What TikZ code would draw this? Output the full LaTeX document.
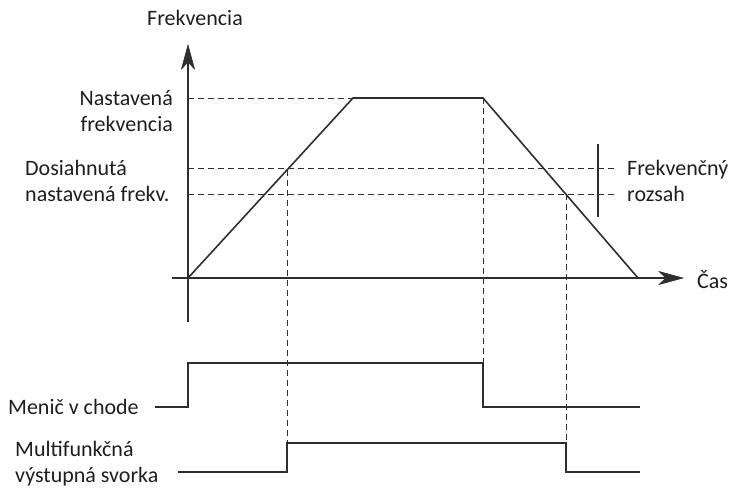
\documentclass[tikz,border=0pt]{standalone}
\usepackage{fontspec}
\setmainfont{Carlito}
\definecolor{ln}{HTML}{2E2E2E}
\definecolor{tx}{HTML}{1E1E1E}
\begin{document}
\begin{tikzpicture}[x=1pt,y=-1pt,
  lbl/.style={inner sep=0pt,text=tx,font=\fontsize{22}{26}\selectfont},
  curve/.style={draw=ln,line width=1.6pt,line join=miter},
  axisline/.style={draw=ln,line width=1.6pt},
  head/.style={fill=ln,draw=ln,line width=0.6pt,line join=miter},
  guide/.style={draw=ln,line width=1pt,dash pattern=on 6pt off 4pt}]
\useasboundingbox (0,0) rectangle (735,488);
% axes
\coordinate (yb) at (188,322);
\coordinate (yt) at (188,45);
\coordinate (yin) at (188,62);
\coordinate (xl) at (172,278);
\coordinate (xr) at (683,278);
\coordinate (xin) at (666,278);
\draw[axisline] (yb) -- (yin);
\draw[axisline] (xl) -- (xin);
\fill[head] (yt) -- (181.5,69) -- (yin) -- (194.5,69) -- cycle;
\fill[head] (xr) -- (659,271.5) -- (xin) -- (659,284.5) -- cycle;
% key points
\coordinate (o) at (188,278);
\coordinate (p1) at (353,98);
\coordinate (p2) at (483,98);
\coordinate (p3) at (638,278);
\coordinate (a98) at (188,98);
\coordinate (a168) at (188,168);
\coordinate (a194) at (188,194);
\coordinate (e168) at (615,168);
\coordinate (e194) at (615,194);
\coordinate (c1) at (287,170);
\coordinate (c2) at (566,194);
% guides
\draw[guide] (a98) -- (p1);
\draw[guide] (a168) -- (e168);
\draw[guide] (a194) -- (e194);
\coordinate (m1hi) at (483,363);
\coordinate (s1hi) at (287,443);
\coordinate (s2hi) at (566,443);
\draw[guide] (c1) -- (s1hi);
\draw[guide] (p2) -- (m1hi);
\draw[guide] (c2) -- (s2hi);
% range bar
\coordinate (rt) at (598,144);
\coordinate (rb) at (598,217);
\draw[draw=ln,line width=1.2pt] (rt) -- (rb);
% frequency curve
\draw[curve] (o) -- (p1) -- (p2) -- (p3);
% Menič v chode signal
\coordinate (m0) at (155,407);
\coordinate (m1) at (188,407);
\coordinate (m2) at (188,363);
\coordinate (m3) at (483,407);
\coordinate (m4) at (640,407);
\draw[curve] (m0) -- (m1) -- (m2) -- (m1hi) -- (m3) -- (m4);
% Multifunkčná signal
\coordinate (s0) at (178,472);
\coordinate (s1) at (287,472);
\coordinate (s2) at (566,472);
\coordinate (s3) at (640,472);
\draw[curve] (s0) -- (s1) -- (s1hi) -- (s2hi) -- (s2) -- (s3);
% labels
\node[lbl] (fr) at (195,18) {Frekvencia};
\node[lbl,anchor=west] (cas) at (697,280) {Čas};
\node[lbl,anchor=east,align=right] (nf) at (173,111) {Nastavená\\frekvencia};
\node[lbl,anchor=west,align=left] (df) at (25,181) {Dosiahnutá\\nastavená frekv.};
\node[lbl,anchor=west,align=left] (rz) at (627,181) {Frekvenčný\\rozsah};
\node[lbl,anchor=west] (mc) at (8,407) {Menič v chode};
\node[lbl,anchor=west,align=left] (mv) at (15,464) {Multifunkčná\\výstupná svorka};
\end{tikzpicture}
\end{document}
